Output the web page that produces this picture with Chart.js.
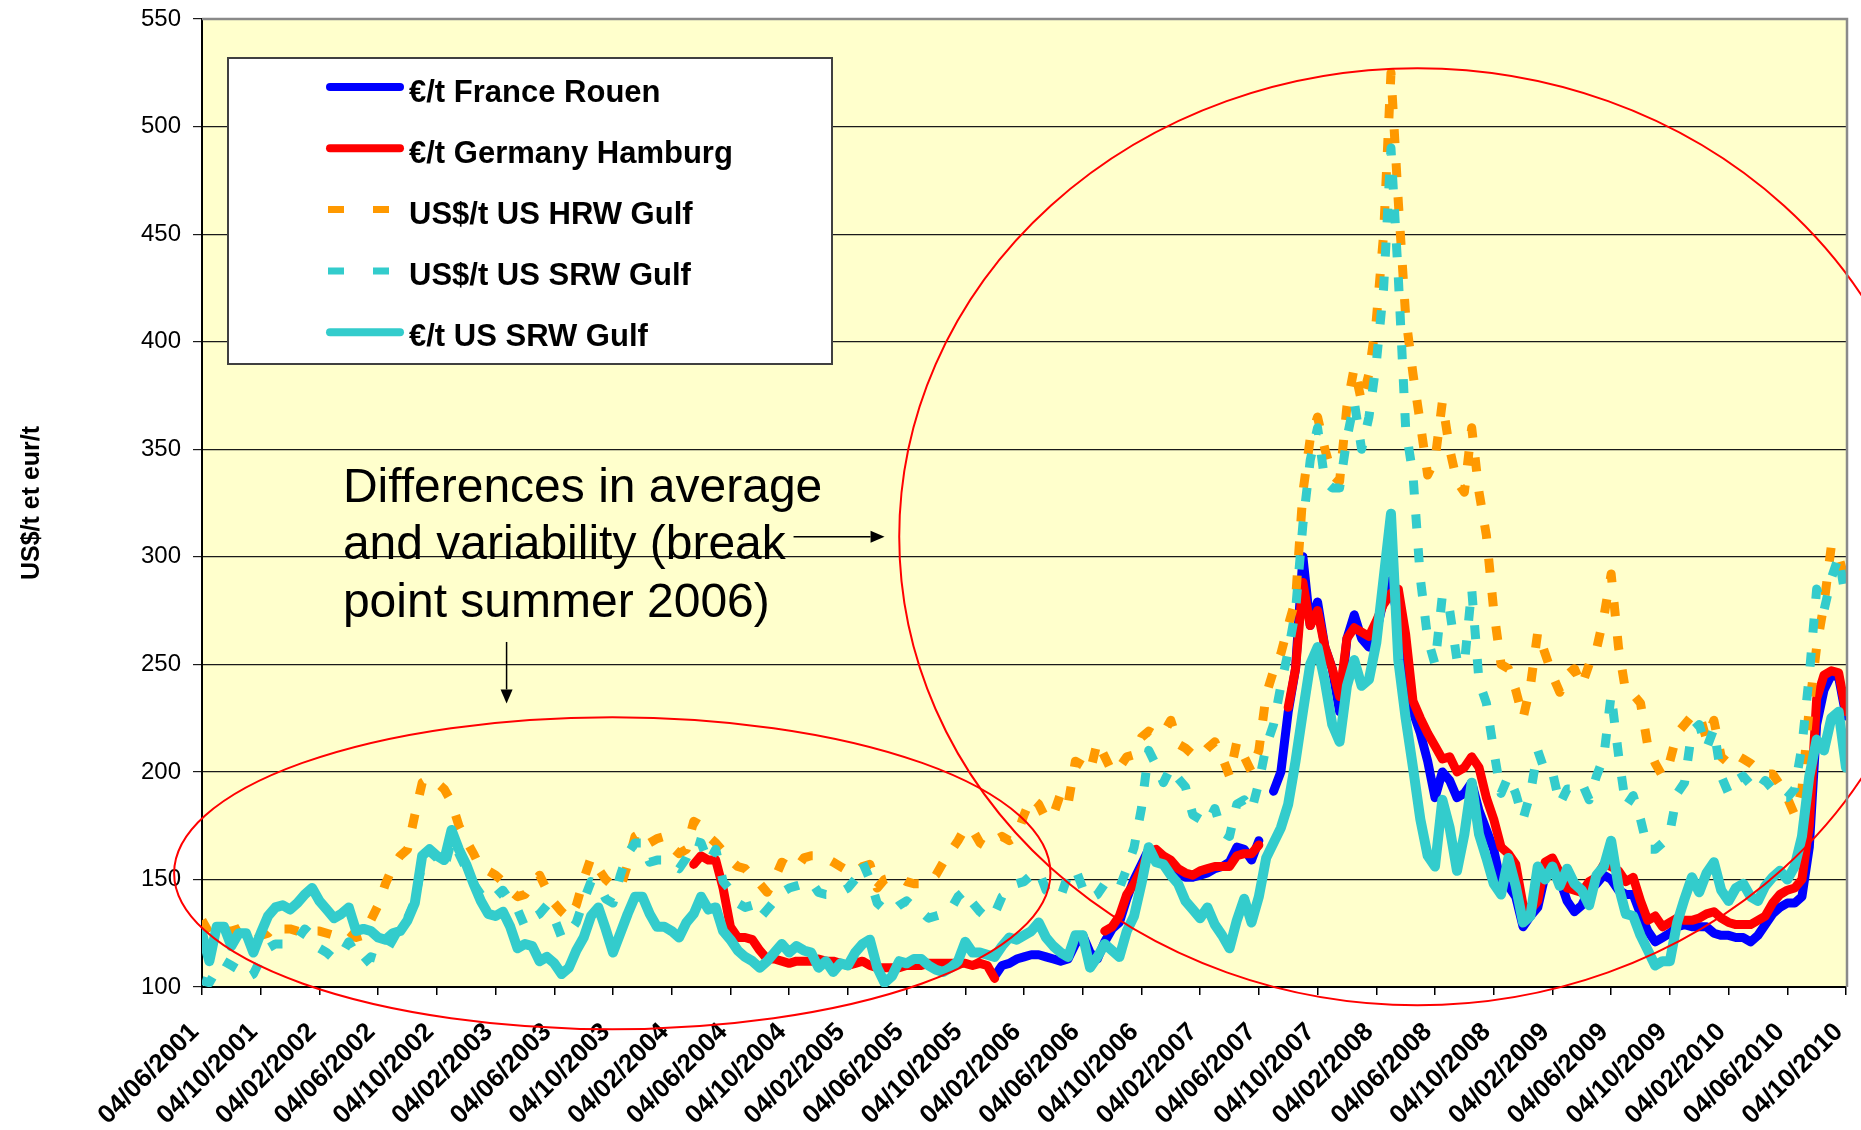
<!DOCTYPE html>
<html>
<head>
<meta charset="utf-8">
<title>Wheat export prices 2001-2010</title>
<script src="https://cdn.jsdelivr.net/npm/chart.js@4.4.1/dist/chart.umd.min.js"></script>
<style>
  html, body { margin: 0; padding: 0; background: #fff; }
  #wrap { width: 1861px; height: 1130px; }
</style>
</head>
<body>
<div id="wrap"><canvas id="priceChart" width="1861" height="1130"></canvas></div>
<script>
// one point every half month roughly, 8 points between two axis labels
const tickLabels = ['04/06/2001', '04/10/2001', '04/02/2002', '04/06/2002', '04/10/2002', '04/02/2003',
  '04/06/2003', '04/10/2003', '04/02/2004', '04/06/2004', '04/10/2004', '04/02/2005', '04/06/2005',
  '04/10/2005', '04/02/2006', '04/06/2006', '04/10/2006', '04/02/2007', '04/06/2007', '04/10/2007',
  '04/02/2008', '04/06/2008', '04/10/2008', '04/02/2009', '04/06/2009', '04/10/2009', '04/02/2010',
  '04/06/2010', '04/10/2010'];

const eurFranceRouen = [
  null, null, null, null, null, null, null, null, null, null, null, null, null, null, null, null, null, null, null, null,
  null, null, null, null, null, null, null, null, null, null, null, null, null, null, null, null, null, null, null, null,
  null, null, null, null, null, null, null, null, null, null, null, null, null, null, null, null, null, null, null, null,
  null, null, null, null, null, null, null, null, null, null, null, null, null, null, null, null, null, null, null, null,
  null, null, null, null, null, null, null, null, null, null, null, null, null, null, null, null, null, null, null, null,
  null, null, null, null, null, null, null, null,
  105, 110, 111, 113, 114, 115, 115, 114, 113, 112, 113, 120,
  124, 116, 113, 121, 127, 130, 141, 150, 157, 164,
  163, 160, 157, 154, 151, 151, 152, 153, 155, 156,
  158, 165, 164, 159, 168, null, 191, 200, 228, 248,
  300, 268, 279, 258, 248, 228, 262, 273, 262, 258,
  265, 280, 289, 270, 243, 228, 218, 205, 188, 200,
  196, 188, 190, 195, 182, 173, 164, 148, 147, 142,
  128, 133, 137, 152, 156, 150, 140, 135, 138, 145,
  148, 152, 150, 145, 143, 143, 134, 126, 121, 123,
  125, 128, 129, 128, 128, 128, 125, 124, 124, 123,
  123, 121, 124, 129, 134, 137, 139, 139, 142, 165,
  222, 238, 245, 244, 226
];

const eurGermanyHamburg = [
  null, null, null, null, null, null, null, null, null, null, null, null, null, null, null, null, null, null, null, null,
  null, null, null, null, null, null, null, null, null, null, null, null, null, null, null, null, null, null, null, null,
  null, null, null, null, null, null, null, null, null, null, null, null, null, null, null, null, null, null, null, null,
  null, null, null, null, null, null, null,
  157, 161, 159,
  159, 146, 128, 123, 123, 122, 117, 113, 113, 112,
  111, 112, 112, 112, 113, 112, 112, 111, 110, 111,
  112, 110, 109, 109, 109, 109, 110, 110, 110, 111,
  111, 111, 111, 111, 111, 110, 111, 110, 104,
  null, null, null, null, null, null, null, null, null, null, null, null, null, null,
  126, 128, 133, 143, 148, 155, 163,
  164, 161, 159, 155, 153, 152, 154, 155, 156, 156,
  156, 161, 162, 162, 166, null, null, null, 230, 248,
  288, 268, 275, 258, 248, 235, 262, 267, 265, 263,
  270, 278, 283, 285, 264, 233, 225, 218, 212, 206,
  207, 200, 202, 207, 202, 188, 178, 165, 162, 157,
  138, 136, 140, 158, 160, 153, 146, 145, 144, 149,
  151, 157, 156, 154, 149, 151, 140, 131, 133, 128,
  130, 132, 131, 131, 132, 134, 135, 132, 130, 129,
  129, 129, 131, 133, 139, 143, 145, 146, 150, 175,
  234, 245, 247, 246, 228
];

const usdHrwGulf = [
  131, 125, 124, 126, 126, 127, 129, 127, 124, 125,
  129, 127, 127, 126, 125, 126, 126, 125, 124, 126,
  126, 123, 124, 131, 138, 148, 156, 161, 164, 180,
  195, 197, 195, 192, 186, 175, 168, 162, 155, 154,
  152, 149, 145, 142, 143, 148, 152, 145, 139, 135,
  132, 138, 150, 160, 155, 150, 147, 146, 157, 170,
  172, 167, 169, 170, 165, 162, 164, 177, 175, 170,
  167, 163, 159, 156, 155, 151, 148, 144, 150, 158,
  156, 155, 160, 161, 161, 160, 158, 156, 154, 153,
  156, 157, 146, 150, 151, 151, 149, 148, 148, 149,
  152, 158, 163, 168, 174, 173, 167, 165, 168, 170,
  168, 170, 180, 188, 185, 178, 180, 190, 185, 205,
  203, 200, 214, 207, 200, 202, 207, 208, 216, 219,
  217, 218, 224, 213, 211, 208, 207, 211, 214, 207,
  198, 214, 207, 200, 210, 236, 247, 255, 268, 280,
  330, 355, 365, 350, 338, 335, 370, 388, 372, 385,
  410, 450, 525, 465, 412, 385, 362, 338, 345, 372,
  350, 335, 330, 360, 330, 310, 275, 250, 248, 238,
  225, 240, 265, 255, 245, 237, 245, 248, 240, 250,
  257, 272, 292, 258, 237, 236, 232, 212, 204, 198,
  205, 218, 222, 226, 227, 215, 224, 207, 204, 208,
  206, 204, 201, 199, 199, 194, 188, 180, 192, 230,
  258, 278, 305, 300, 288
];

const usdSrwGulf = [
  103, 102, 108, 112, 110, 108, 104, 106, 113, 118,
  120, 120, 120, 122, 127, 124, 118, 116, 113, 115,
  121, 115, 111, 114, 113, 116, 122, 128, 132, 140,
  158, 163, 160, 155, 168, 162, 155, 148, 143, 140,
  142, 145, 140, 136, 128, 132, 134, 138, 132, 123,
  125, 130, 140, 149, 148, 141, 139, 152, 162, 167,
  167, 158, 159, 159, 157, 155, 160, 168, 167, 158,
  164, 149, 145, 139, 137, 138, 132, 136, 140, 144,
  146, 147, 148, 149, 144, 143, 143, 144, 146, 150,
  158, 150, 139, 136, 135, 138, 140, 137, 135, 132,
  133, 134, 136, 142, 145, 139, 135, 132, 134, 142,
  144, 148, 149, 152, 154, 145, 142, 142, 152, 155,
  146, 141, 143, 148, 146, 146, 155, 165, 183, 210,
  203, 195, 202, 197, 193, 180, 178, 176, 183, 172,
  170, 185, 187, 182, 195, 212, 222, 240, 256, 275,
  315, 345, 360, 335, 332, 332, 355, 372, 350, 365,
  390, 425, 490, 430, 360, 338, 290, 262, 250, 282,
  275, 252, 250, 285, 242, 232, 210, 190, 198, 190,
  178, 190, 210, 200, 200, 185, 192, 192, 195, 187,
  198, 207, 236, 208, 184, 189, 178, 164, 164, 167,
  172, 190, 195, 219, 222, 211, 220, 198, 190, 196,
  198, 194, 191, 196, 192, 188, 188, 192, 212, 245,
  285, 275, 290, 300, 280
];

const eurSrwGulf = [
  125, 112, 128, 128, 119, 125, 125, 116, 125, 133,
  137, 138, 136, 139, 143, 146, 140, 136, 132, 134,
  137, 126, 127, 126, 123, 122, 125, 126, 131, 139,
  161, 164, 161, 159, 173, 164, 157, 148, 140, 134,
  133, 135, 128, 118, 120, 119, 112, 114, 111, 106,
  109, 117, 123, 133, 137, 127, 116, 125, 134, 142,
  142, 134, 128, 128, 126, 123, 130, 134, 142, 136,
  137, 126, 122, 117, 114, 112, 109, 112, 116, 120,
  116, 119, 117, 116, 109, 112, 107, 111, 110, 116,
  120, 122, 109, 102, 105, 112, 111, 113, 113, 110,
  108, 107, 109, 112, 121, 116, 116, 115, 114, 119,
  123, 122, 124, 126, 130, 123, 119, 116, 114, 124,
  124, 109, 114, 120, 117, 114, 126, 133, 148, 165,
  158, 157, 152, 148, 140, 136, 132, 137, 129, 124,
  118, 131, 141, 130, 142, 160, 167, 174, 185, 205,
  228, 250, 258, 242, 222, 214, 240, 252, 240, 243,
  260, 290, 320, 252, 225, 202, 178, 161, 156, 187,
  174, 154, 171, 195, 171, 160, 148, 143, 160, 147,
  130, 133, 156, 150, 156, 147, 155, 148, 145, 138,
  152, 156, 168, 147, 134, 133, 124, 117, 110, 112,
  112, 130, 141, 151, 144, 153, 158, 145, 140, 146,
  148, 142, 140, 147, 151, 154, 150, 156, 170, 198,
  215, 210, 225, 228, 202
];

// drawn shapes, placed in data units (x = point index, y = price)
const noteText = ['Differences in average', 'and variability (break', 'point summer 2006)'];
const noteAnchor = { x: 19.2, y: 325.5, lineStep: 26.7 };
const arrows = [
  { x1: 80.6, y1: 309.3, x2: 93.0, y2: 309.3 },
  { x1: 41.5, y1: 260.4, x2: 41.5, y2: 231.8 }
];
const ellipses = [
  { cx: 55.9, cy: 152.9, rx: 59.7, ry: 72.5 },
  { cx: 165.6, cy: 309.3, rx: 70.6, ry: 217.8 }
];

const FONT = '"Liberation Sans", Arial, sans-serif';

const decorations = {
  id: 'decorations',
  beforeDraw(chart) {
    const { ctx, chartArea: a } = chart;
    ctx.save();
    ctx.fillStyle = '#fff';
    ctx.fillRect(0, 0, chart.width, chart.height);
    ctx.fillStyle = '#FFFFCC';
    ctx.fillRect(a.left, a.top, a.right - a.left, a.bottom - a.top);
    ctx.restore();
  },
  afterDatasetsDraw(chart) {
    const { ctx } = chart;
    const xs = chart.scales.x, ys = chart.scales.y;
    ctx.save();

    // red ellipses
    ctx.strokeStyle = '#FF0000';
    ctx.lineWidth = 2;
    ellipses.forEach(e => {
      const cx = xs.getPixelForValue(e.cx), cy = ys.getPixelForValue(e.cy);
      const rx = Math.abs(xs.getPixelForValue(e.cx + e.rx) - cx);
      const ry = Math.abs(ys.getPixelForValue(e.cy + e.ry) - cy);
      ctx.beginPath();
      ctx.ellipse(cx, cy, rx, ry, 0, 0, Math.PI * 2);
      ctx.stroke();
    });

    // note text
    ctx.fillStyle = '#000';
    ctx.font = '48px ' + FONT;
    ctx.textBaseline = 'alphabetic';
    noteText.forEach((line, k) => {
      ctx.fillText(line, xs.getPixelForValue(noteAnchor.x), ys.getPixelForValue(noteAnchor.y - k * noteAnchor.lineStep));
    });

    // arrows
    ctx.strokeStyle = '#000';
    ctx.lineWidth = 1.5;
    arrows.forEach(ar => {
      const x1 = xs.getPixelForValue(ar.x1), y1 = ys.getPixelForValue(ar.y1);
      const x2 = xs.getPixelForValue(ar.x2), y2 = ys.getPixelForValue(ar.y2);
      const ang = Math.atan2(y2 - y1, x2 - x1);
      const head = 14, half = 6;
      ctx.beginPath();
      ctx.moveTo(x1, y1);
      ctx.lineTo(x2 - head * Math.cos(ang), y2 - head * Math.sin(ang));
      ctx.stroke();
      ctx.beginPath();
      ctx.moveTo(x2, y2);
      ctx.lineTo(x2 - head * Math.cos(ang) - half * Math.sin(ang), y2 - head * Math.sin(ang) + half * Math.cos(ang));
      ctx.lineTo(x2 - head * Math.cos(ang) + half * Math.sin(ang), y2 - head * Math.sin(ang) - half * Math.cos(ang));
      ctx.closePath();
      ctx.fill();
    });
    ctx.restore();
  },
  afterDraw(chart) {
    const { ctx, chartArea: a } = chart;
    ctx.save();

    // grey frame on top and right of the plot
    ctx.strokeStyle = '#8A8A8A';
    ctx.lineWidth = 2.5;
    ctx.beginPath();
    ctx.moveTo(a.left, a.top);
    ctx.lineTo(a.right + 1, a.top);
    ctx.lineTo(a.right + 1, a.bottom);
    ctx.stroke();

    // legend box
    const bx = 228, by = 58, bw = 604, bh = 306;
    ctx.fillStyle = '#fff';
    ctx.fillRect(bx, by, bw, bh);
    ctx.strokeStyle = '#404040';
    ctx.lineWidth = 2;
    ctx.strokeRect(bx, by, bw, bh);
    chart.data.datasets.forEach((ds, k) => {
      const y = 87 + 61.3 * k;
      ctx.beginPath();
      ctx.strokeStyle = ds.borderColor;
      if (ds.borderDash) {
        ctx.lineWidth = 7;
        ctx.lineCap = 'butt';
        ctx.setLineDash([16, 29]);
        ctx.moveTo(328, y);
      } else {
        ctx.lineWidth = 8;
        ctx.lineCap = 'round';
        ctx.setLineDash([]);
        ctx.moveTo(330, y);
      }
      ctx.lineTo(400, y);
      ctx.stroke();
      ctx.setLineDash([]);
      ctx.fillStyle = '#000';
      ctx.font = 'bold 31px ' + FONT;
      ctx.textBaseline = 'alphabetic';
      ctx.fillText(ds.label, 409, 102 + 61 * k);
    });
    ctx.restore();
  }
};

document.addEventListener('DOMContentLoaded', () => {
  const ctx = document.getElementById('priceChart').getContext('2d');

  new Chart(ctx, {
    type: 'line',
    data: {
      labels: eurSrwGulf.map((_, i) => i),
      datasets: [{
        label: '€/t France Rouen',
        data: eurFranceRouen,
        borderColor: '#0000FF',
        borderWidth: 9,
        order: 5
      }, {
        label: '€/t Germany Hamburg',
        data: eurGermanyHamburg,
        borderColor: '#FF0000',
        borderWidth: 9,
        order: 4
      }, {
        label: 'US$/t US HRW Gulf',
        data: usdHrwGulf,
        borderColor: '#FF9900',
        borderWidth: 9,
        borderDash: [14, 20],
        borderCapStyle: 'butt',
        order: 3
      }, {
        label: 'US$/t US SRW Gulf',
        data: usdSrwGulf,
        borderColor: '#33CCCC',
        borderWidth: 9,
        borderDash: [14, 20],
        borderCapStyle: 'butt',
        order: 2
      }, {
        label: '€/t US SRW Gulf',
        data: eurSrwGulf,
        borderColor: '#33CCCC',
        borderWidth: 10,
        order: 1
      }]
    },
    options: {
      responsive: false,
      animation: false,
      devicePixelRatio: 1,
      layout: { padding: { top: 19, right: 15, bottom: 0, left: 0 } },
      datasets: {
        line: {
          pointRadius: 0,
          pointHoverRadius: 0,
          tension: 0,
          fill: false,
          spanGaps: false,
          borderJoinStyle: 'round',
          borderCapStyle: 'round'
        }
      },
      plugins: {
        legend: { display: false },
        tooltip: { enabled: false }
      },
      scales: {
        x: {
          type: 'linear',
          min: 0,
          max: 224,
          afterFit: (scale) => {
            scale.height = 143;
            scale.paddingLeft = 0;
            scale.paddingRight = 0;
          },
          grid: { drawOnChartArea: false, drawTicks: true, tickLength: 8, color: '#000', lineWidth: 1.5 },
          border: { color: '#000', width: 2 },
          ticks: {
            stepSize: 8,
            maxTicksLimit: 40,
            autoSkip: false,
            minRotation: 45,
            maxRotation: 45,
            padding: 22,
            labelOffset: -7,
            color: '#000',
            font: { family: FONT, size: 26, weight: 'bold' },
            callback: (v) => tickLabels[Math.round(v / 8)]
          }
        },
        y: {
          min: 100,
          max: 550,
          afterFit: (scale) => {
            scale.width = 202;
            scale.paddingTop = 0;
            scale.paddingBottom = 0;
          },
          grid: { color: '#1a1a1a', lineWidth: 1.2, tickLength: 9 },
          border: { color: '#000', width: 2 },
          ticks: {
            stepSize: 50,
            padding: 12,
            color: '#000',
            font: { family: FONT, size: 24 }
          },
          title: {
            display: true,
            text: 'US$/t et eur/t',
            color: '#000',
            font: { family: FONT, size: 25, weight: 'bold' },
            padding: { top: 17, bottom: 0 }
          }
        }
      }
    },
    plugins: [decorations]
  });
});
</script>
</body>
</html>
